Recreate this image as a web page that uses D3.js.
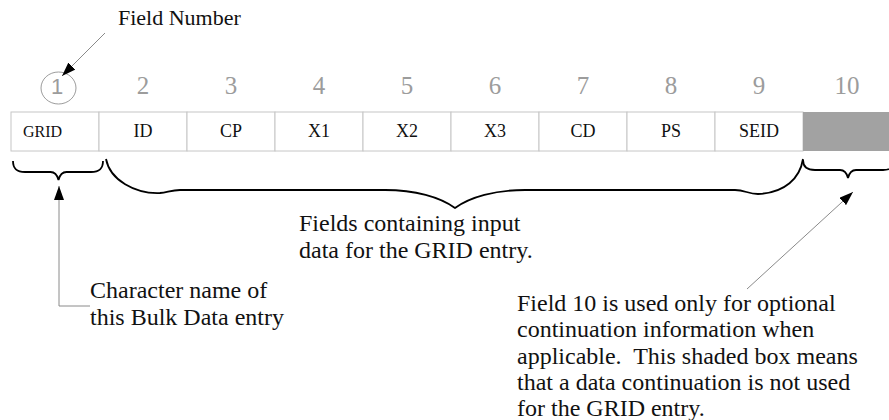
<!DOCTYPE html>
<html>
<head>
<meta charset="utf-8">
<script src="https://cdn.jsdelivr.net/npm/d3@7"></script>
<style>
  body { margin: 0; background: #fff; }
  text { font-family: 'Liberation Serif', 'Times New Roman', serif; white-space: pre; }
</style>
</head>
<body>
<div id="diagrama"></div>
<script>
// Datos de la tarjeta GRID
var fieldNumbers = [1, 2, 3, 4, 5, 6, 7, 8, 9, 10]
var fieldNames = ['GRID', 'ID', 'CP', 'X1', 'X2', 'X3', 'CD', 'PS', 'SEID', '']
var shadedFields = [10] // campo de continuacion sin usar

var titleLabel = 'Field Number'
var inputLines = ['Fields containing input', 'data for the GRID entry.']
var nameLines = ['Character name of', 'this Bulk Data entry']
var contLines = [
  'Field 10 is used only for optional',
  'continuation information when',
  'applicable.  This shaded box means',
  'that a data continuation is not used',
  'for the GRID entry.',
]

var width = 889
var height = 420
var rowTop = 112
var rowHeight = 39

var svg = d3
  .select('#diagrama')
  .append('svg')
  .attr('width', width)
  .attr('height', height)

svg.append('rect').attr('width', width).attr('height', height).attr('fill', '#fff')

var defs = svg.append('defs')
defs
  .append('marker')
  .attr('id', 'flecha')
  .attr('viewBox', '0 0 14 10')
  .attr('refX', 14)
  .attr('refY', 5)
  .attr('markerWidth', 14)
  .attr('markerHeight', 10)
  .attr('markerUnits', 'userSpaceOnUse')
  .attr('orient', 'auto')
  .append('path')
  .attr('d', 'M0,0 L14,5 L0,10 Z')
  .attr('fill', '#000')

// escala de columnas (una por campo)
var x = d3.scaleBand().domain(fieldNumbers).range([11, 891])

// celdas
svg
  .append('g')
  .selectAll('rect')
  .data(fieldNumbers)
  .enter()
  .append('rect')
  .attr('x', (d) => x(d))
  .attr('y', rowTop)
  .attr('width', x.bandwidth())
  .attr('height', rowHeight)
  .attr('fill', (d) => (shadedFields.includes(d) ? '#a2a2a2' : '#fff'))
  .attr('stroke', (d) => (shadedFields.includes(d) ? 'none' : '#c6c6c6'))
  .attr('stroke-width', 1)

// nombres de los campos
svg
  .append('g')
  .selectAll('text')
  .data(fieldNumbers)
  .enter()
  .append('text')
  .attr('x', (d, i) => (i == 0 ? x(d) + 12 : x(d) + x.bandwidth() / 2))
  .attr('y', rowTop + 25)
  .attr('text-anchor', (d, i) => (i == 0 ? 'start' : 'middle'))
  .style('font-size', (d, i) => (i == 0 ? '16px' : '18px'))
  .attr('fill', '#111')
  .text((d, i) => fieldNames[i])

// numeros de campo
svg
  .append('g')
  .selectAll('text')
  .data(fieldNumbers)
  .enter()
  .append('text')
  .attr('x', (d) => x(d) + x.bandwidth() / 2 + (d == 1 ? 2 : 0))
  .attr('y', 94)
  .attr('text-anchor', 'middle')
  .style('font-size', (d) => (d == 1 ? '22px' : '25px'))
  .style('font-family', (d) => (d == 1 ? "'Liberation Sans', Arial, sans-serif" : null))
  .attr('fill', '#9c9c9c')
  .text((d) => d)

// circulo del campo 1
svg
  .append('ellipse')
  .attr('cx', x(1) + x.bandwidth() / 2 + 3.5)
  .attr('cy', 88)
  .attr('rx', 17.5)
  .attr('ry', 16)
  .attr('fill', 'none')
  .attr('stroke', '#9c9c9c')
  .attr('stroke-width', 1)

// "Field Number" y su flecha
svg
  .append('text')
  .attr('x', 118)
  .attr('y', 25)
  .style('font-size', '22px')
  .attr('fill', '#111')
  .text(titleLabel)

svg
  .append('line')
  .attr('x1', 105)
  .attr('y1', 33)
  .attr('x2', 62)
  .attr('y2', 76)
  .attr('stroke', '#8a8a8a')
  .attr('stroke-width', 1)
  .attr('marker-end', 'url(#flecha)')

// llaves
function llave(x1, x2, y0, y1, tipX, tipY, r) {
  return (
    'M' + x1 + ',' + y0 +
    ' C' + x1 + ',' + (y0 + (y1 - y0) * 0.7) + ' ' + (x1 + r * 0.3) + ',' + y1 + ' ' + (x1 + r) + ',' + y1 +
    ' L' + (tipX - 8) + ',' + y1 +
    ' C' + (tipX - 4) + ',' + y1 + ' ' + (tipX - 1.5) + ',' + (y1 + 2) + ' ' + tipX + ',' + tipY +
    ' C' + (tipX + 1.5) + ',' + (y1 + 2) + ' ' + (tipX + 4) + ',' + y1 + ' ' + (tipX + 8) + ',' + y1 +
    ' L' + (x2 - r) + ',' + y1 +
    ' C' + (x2 - r * 0.3) + ',' + y1 + ' ' + x2 + ',' + (y0 + (y1 - y0) * 0.7) + ' ' + x2 + ',' + y0
  )
}

var llaves = svg.append('g').attr('fill', 'none').attr('stroke', '#000').attr('stroke-width', 1.8)

llaves.append('path').attr('d', llave(x(1) + 2, x(2) + 4, 161, 172, x(1) + x.bandwidth() / 2 + 3.5, 180, 12))
llaves.append('path').attr('d', llave(x(10), x(10) + x.bandwidth() + 4, 160, 170, x(10) + 45, 178, 12))

// llave grande (campos 2 a 9)
llaves
  .append('path')
  .attr(
    'd',
    'M' + (x(2) + 7) + ',159' +
      ' C110,180 135,194 160,193' +
      ' C168,192 172,190 180,190' +
      ' L385,190' +
      ' C415,190 440,197 455,208' +
      ' C470,197 495,190 525,190' +
      ' L735,190' +
      ' C745,190 748,194 758,194' +
      ' C785,193 800,178 ' + x(10) + ',159',
  )

// flecha del nombre de la tarjeta
svg
  .append('path')
  .attr('d', 'M90,306 L59,306 L59,186')
  .attr('fill', 'none')
  .attr('stroke', '#8a8a8a')
  .attr('stroke-width', 1)
  .attr('marker-end', 'url(#flecha)')

// flecha del campo 10
svg
  .append('line')
  .attr('x1', 747)
  .attr('y1', 289)
  .attr('x2', 853)
  .attr('y2', 192)
  .attr('stroke', '#8a8a8a')
  .attr('stroke-width', 1)
  .attr('marker-end', 'url(#flecha)')

// textos explicativos
function bloque(lineas, x0, y0, salto) {
  svg
    .append('g')
    .selectAll('text')
    .data(lineas)
    .enter()
    .append('text')
    .attr('x', x0)
    .attr('y', (d, i) => y0 + i * salto)
    .style('font-size', '24px')
    .attr('fill', '#111')
    .text((d) => d)
}

bloque(inputLines, 299, 231, 26.5)
bloque(nameLines, 90, 298, 27)
bloque(contLines, 517, 311, 26.3)
</script>
</body>
</html>
